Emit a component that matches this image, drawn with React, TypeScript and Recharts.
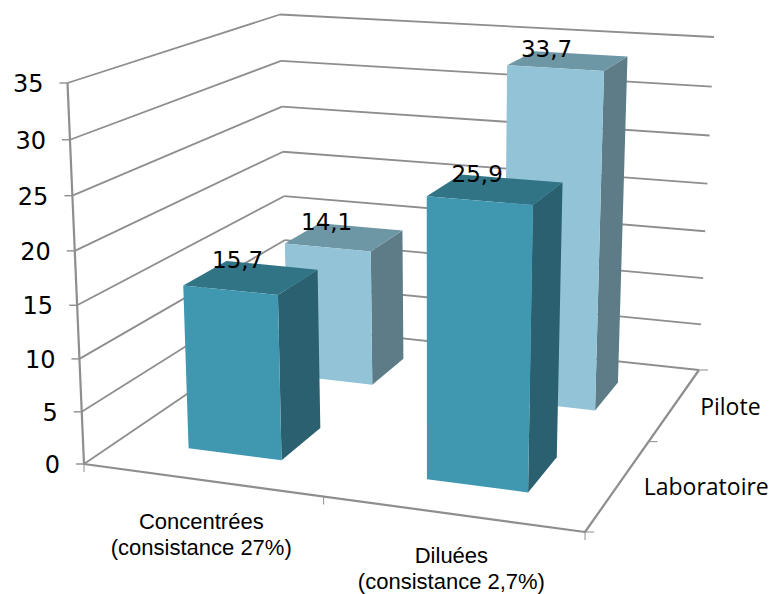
import { BarChart, Bar, XAxis, YAxis, CartesianGrid, Customized } from 'recharts';

const categories = ['Concentrées\n(consistance 27%)', 'Diluées\n(consistance 2,7%)'];
const seriesNames = ['Laboratoire', 'Pilote'];
const laboratoire = [15.7, 25.9];
const pilote = [14.1, 33.7];
const yTicks = [0, 5, 10, 15, 20, 25, 30, 35];

const data = categories.map((name, i) => ({ name, laboratoire: laboratoire[i], pilote: pilote[i] }));

// plot box of the flat chart, its pixels get mapped onto the 3D box below
const PLOT = { left: 100, top: 100, width: 570, height: 394 };
const BAR_SIZE = 114; // 0.2 of plot width

type Pt = [number, number];

// unit square -> quad, corners in order (0,0) (1,0) (1,1) (0,1)
const homography = ([p0, p1, p2, p3]: Pt[]) => {
    const dx1 = p1[0] - p2[0];
    const dx2 = p3[0] - p2[0];
    const sx = p0[0] - p1[0] + p2[0] - p3[0];
    const dy1 = p1[1] - p2[1];
    const dy2 = p3[1] - p2[1];
    const sy = p0[1] - p1[1] + p2[1] - p3[1];
    const det = dx1 * dy2 - dx2 * dy1;
    const g = (sx * dy2 - dx2 * sy) / det;
    const h = (dx1 * sy - sx * dy1) / det;
    return (u: number, w: number): Pt => {
        const q = g * u + h * w + 1;
        return [
            ((p1[0] - p0[0] + g * p1[0]) * u + (p3[0] - p0[0] + h * p3[0]) * w + p0[0]) / q,
            ((p1[1] - p0[1] + g * p1[1]) * u + (p3[1] - p0[1] + h * p3[1]) * w + p0[1]) / q,
        ];
    };
};

const floor = homography([[84, 464], [585, 532], [699, 370], [287, 326]]);
const ceiling = homography([[67.5, 83], [597, 120], [714, 37], [280, 14.5]]);

// u across, v up, w into the picture
const project = (u: number, v: number, w: number): Pt => {
    const a = floor(u, w);
    const b = ceiling(u, w);
    const t = v / (1 + 0.05 * (1 - v));
    return [a[0] + (b[0] - a[0]) * t, a[1] + (b[1] - a[1]) * t];
};

const toU = (x: number) => (x - PLOT.left) / PLOT.width;
const toV = (y: number) => (PLOT.top + PLOT.height - y) / PLOT.height;

const poly = (pts: Pt[]) => pts.map((p) => `${p[0]},${p[1]}`).join(' ');

const GRID = '#8e8e8e';

const Seg = ({ a, b, w = 1.8 }: { a: Pt; b: Pt; w?: number }) => (
    <line x1={a[0]} y1={a[1]} x2={b[0]} y2={b[1]} stroke={GRID} strokeWidth={w} />
);

// wall lines come from the grid, so they stay behind the bars
const WallLine = ({ y1 }: any) => {
    const v = toV(y1);
    return (
        <g>
            <Seg a={project(0, v, 0)} b={project(0, v, 1)} />
            <Seg a={project(0, v, 1)} b={project(1, v, 1)} />
        </g>
    );
};

const YTick = ({ y, payload }: any) => {
    const front = project(0, toV(y), 0);
    return (
        <g>
            <Seg a={[front[0] - 8, front[1]]} b={front} w={1.4} />
            <text
                x={front[0] - 24}
                y={front[1] + 9}
                textAnchor="end"
                fontFamily="DejaVu Sans"
                fontSize={24}
                fill="#000"
            >
                {payload.value}
            </text>
        </g>
    );
};

const XTick = ({ x, payload }: any) => {
    const p = project(toU(x), 0, 0);
    const lines = String(payload.value).split('\n');
    return (
        <text textAnchor="middle" fontFamily="Liberation Sans" fontSize={22} fill="#000">
            {lines.map((line, i) => (
                <tspan key={i} x={p[0]} y={p[1] + 49 + i * 26}>
                    {line}
                </tspan>
            ))}
        </text>
    );
};

const Floor = () => (
    <g>
        <Seg a={project(0, 0, 0)} b={project(1, 0, 0)} w={2.2} />
        <Seg a={project(1, 0, 0)} b={project(1, 0, 1)} w={2.2} />
        <Seg a={project(0, 1, 0)} b={project(0, 0, 0)} w={2.2} />
        {/* axis tick marks */}
        {[0, 0.5, 1].map((u) => {
            const p = project(u, 0, 0);
            return <Seg key={u} a={p} b={[p[0], p[1] + 8]} w={1} />;
        })}
        {[0, 0.5, 1].map((w) => {
            const p = project(1, 0, w);
            return <Seg key={w} a={p} b={[p[0] + 9, p[1]]} w={1} />;
        })}
        {seriesNames.map((name, i) => {
            const p = project(1, 0, 0.25 + i * 0.5);
            return (
                <text
                    key={name}
                    x={p[0] + 25}
                    y={p[1] + 11}
                    fontFamily="Open Sans"
                    fontSize={23}
                    fill="#000"
                >
                    {name}
                </text>
            );
        })}
    </g>
);

const Box3D = ({ x, y, width, value, depth, colors }: any) => {
    const u0 = toU(x);
    const u1 = toU(x + width);
    const v = toV(y);
    const [w0, w1] = depth;
    const labelAt = project((u0 + u1) / 2, v, w1);
    return (
        <g>
            <polygon
                points={poly([project(u1, 0, w0), project(u1, 0, w1), project(u1, v, w1), project(u1, v, w0)])}
                fill={colors.side}
            />
            <polygon
                points={poly([project(u0, v, w0), project(u1, v, w0), project(u1, v, w1), project(u0, v, w1)])}
                fill={colors.top}
            />
            <polygon
                points={poly([project(u0, 0, w0), project(u1, 0, w0), project(u1, v, w0), project(u0, v, w0)])}
                fill={colors.front}
            />
            <text
                x={labelAt[0] - 34}
                y={labelAt[1] + 3}
                textAnchor="middle"
                fontFamily="DejaVu Sans"
                fontSize={23}
                fill="#000"
            >
                {String(value).replace('.', ',')}
            </text>
        </g>
    );
};

const labColors = { front: '#4097b0', top: '#307486', side: '#2a6070' };
const pilotColors = { front: '#93c3d6', top: '#6e97a6', side: '#5d7c88' };

export default function App() {
    return (
        <div style={{ position: 'absolute', left: 0, top: 0, width: 770, height: 594 }}>
            <BarChart
                width={770}
                height={594}
                data={data}
                barSize={BAR_SIZE}
                barGap={-BAR_SIZE}
                margin={{ top: PLOT.top, right: 100, bottom: 70, left: 40 }}
            >
                <CartesianGrid vertical={false} syncWithTicks horizontal={(props: any) => <WallLine {...props} />} />
                <XAxis dataKey="name" height={30} axisLine={false} tickLine={false} interval={0} tick={<XTick />} />
                <YAxis
                    width={60}
                    domain={[0, 35]}
                    ticks={yTicks}
                    interval={0}
                    axisLine={false}
                    tickLine={false}
                    tick={<YTick />}
                />
                <Customized component={Floor} />
                <Bar
                    dataKey="pilote"
                    isAnimationActive={false}
                    shape={(props: any) => <Box3D {...props} depth={[0.65, 0.85]} colors={pilotColors} />}
                />
                <Bar
                    dataKey="laboratoire"
                    isAnimationActive={false}
                    shape={(props: any) => <Box3D {...props} depth={[0.15, 0.35]} colors={labColors} />}
                />
            </BarChart>
        </div>
    );
}
